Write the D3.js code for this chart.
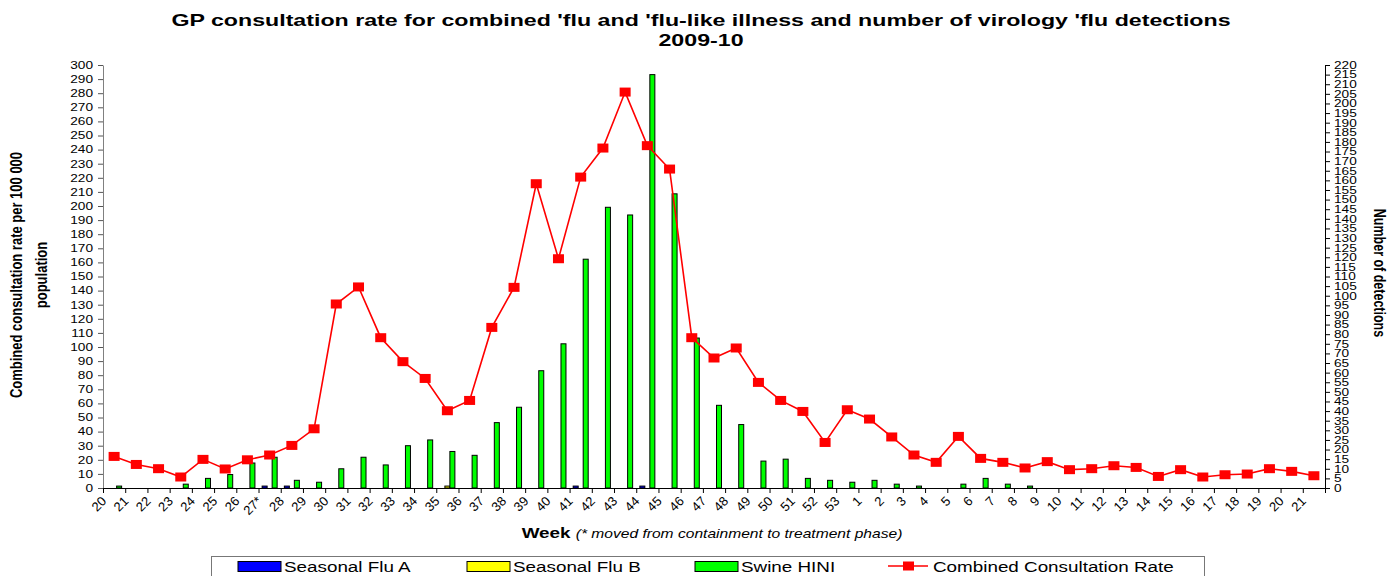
<!DOCTYPE html>
<html lang="en">
  <head>
    <meta charset="UTF-8" />
    <title>GP consultation rate 2009-10</title>
    <style>
      body {
        margin: 0;
        background: #fff;
      }
      svg {
        display: block;
        font-family: "Liberation Sans", Arial, sans-serif;
      }
    </style>
  </head>

  <body>
    <div class="container"></div>

    <script src="https://d3js.org/d3.v7.min.js"></script>
    <script>
      // data
      const weeks = [
        "20", "21", "22", "23", "24", "25", "26", "27*", "28", "29", "30", "31", "32", "33",
        "34", "35", "36", "37", "38", "39", "40", "41", "42", "43", "44", "45", "46", "47",
        "48", "49", "50", "51", "52", "53", "1", "2", "3", "4", "5", "6", "7", "8", "9", "10",
        "11", "12", "13", "14", "15", "16", "17", "18", "19", "20", "21"
      ];
      // rate per 100 000 (left axis)
      const rate = [
        22.4, 16.7, 13.7, 7.8, 20.3, 13.5, 20, 23.4, 30.2, 42,
        130.5, 142.6, 106.6, 89.6, 77.7, 54.8, 62.1, 113.9, 142.3, 215.8,
        162.6, 220.5, 241.1, 280.8, 242.8, 226.2, 106.6, 92.2, 99.3, 74.9,
        62.1, 54.3, 32.3, 55.5, 48.9, 36.2, 23.4, 18.2, 36.6, 21,
        18.2, 14.2, 18.7, 13, 13.7, 15.8, 14.6, 8.2, 13, 7.8,
        9.4, 9.9, 13.7, 11.8, 8.7
      ];
      // detections (right axis)
      const fluA = [
        0, 0, 0, 0, 0, 0, 0, 1, 1, 0, 0, 0, 0, 0, 0, 0, 0, 0, 0, 0, 0, 1, 0, 0, 1, 0, 0, 0,
        0, 0, 0, 0, 0, 0, 0, 0, 0, 0, 0, 0, 0, 0, 0, 0, 0, 0, 0, 0, 0, 0, 0, 0, 0, 0, 0
      ];
      const fluB = [
        0, 0, 0, 0, 0, 0, 0, 0, 0, 0, 0, 0, 0, 0, 0, 1, 0, 0, 0, 0, 0, 0, 0, 0, 0, 0, 0, 0,
        0, 0, 0, 0, 0, 0, 0, 0, 0, 0, 0, 0, 0, 0, 0, 0, 0, 0, 0, 0, 0, 0, 0, 0, 0, 0, 0
      ];
      const swine = [
        1, 0, 0, 2, 5, 7, 13, 16, 4, 3, 10, 16, 12, 22, 25, 19, 17, 34, 42, 61,
        75, 119, 146, 142, 215, 153, 78, 43, 33, 14, 15, 5, 4, 3, 4, 2, 1, 0, 2, 5,
        2, 1, 0, 0, 0, 0, 0, 0, 0, 0, 0, 0, 0, 0, 0
      ];
      const leftTicks = d3.range(0, 301, 10);
      const rightTicks = d3.range(0, 221, 5);
      const seriesNames = ["Seasonal Flu A", "Seasonal Flu B", "Swine HINI"];
      const seriesColors = ["#0000ff", "#ffff00", "#00ff00"];
      const lineName = "Combined Consultation Rate";

      // the original picture is stretched sideways, texts get the same stretch
      const SX = 1.3;

      const W = 1394,
        H = 576;
      const m = { left: 103, right: 1325, top: 65, bottom: 488 };

      const svg = d3.select(".container").append("svg").attr("width", W).attr("height", H);

      const x = d3.scaleBand().domain(d3.range(weeks.length)).range([m.left, m.right]);
      const xi = d3.scaleLinear().domain([0, weeks.length]).range([m.left, m.right]);
      const xs = d3.scaleBand().domain([0, 1, 2]).range([0, x.bandwidth()]).paddingOuter(0.72);
      const yL = d3.scaleLinear().domain([0, 300]).range([m.bottom, m.top]);
      const yR = d3.scaleLinear().domain([0, 220]).range([m.bottom, m.top]);

      function stretch(sel) {
        sel.selectAll("text").each(function () {
          const t = d3.select(this);
          t.attr("x", +t.attr("x") / SX).attr("transform", `scale(${SX},1)`);
        });
      }

      // title
      const title = svg.append("g").attr("font-weight", "bold").attr("font-size", 16).attr("text-anchor", "middle");
      title
        .append("text")
        .attr("transform", "translate(701,26) scale(1.45,1)")
        .text("GP consultation rate for combined 'flu and 'flu-like illness and number of virology 'flu detections");
      title.append("text").attr("transform", "translate(701,46) scale(1.45,1)").text("2009-10");

      // bars
      const series = [fluA, fluB, swine];
      series.forEach((vals, s) => {
        svg
          .append("g")
          .selectAll("rect")
          .data(vals.map((v, i) => ({ i, v })).filter((d) => d.v > 0))
          .join("rect")
          .attr("x", (d) => x(d.i) + xs(s))
          .attr("width", xs.bandwidth())
          .attr("y", (d) => yR(d.v))
          .attr("height", (d) => yR(0) - yR(d.v))
          .attr("fill", seriesColors[s])
          .attr("stroke", "#000")
          .attr("stroke-width", 1);
      });

      // line
      const line = d3
        .line()
        .x((d, i) => x(i) + x.bandwidth() / 2)
        .y((d) => yL(d));
      svg.append("path").datum(rate).attr("d", line).attr("fill", "none").attr("stroke", "#ff0000").attr("stroke-width", 1.6);
      svg
        .append("g")
        .selectAll("rect")
        .data(rate)
        .join("rect")
        .attr("x", (d, i) => x(i) + x.bandwidth() / 2 - 5.5)
        .attr("y", (d) => yL(d) - 4.5)
        .attr("width", 11)
        .attr("height", 9)
        .attr("fill", "#ff0000");

      // axes
      const gL = svg
        .append("g")
        .attr("transform", `translate(${m.left},0)`)
        .call(d3.axisLeft(yL).tickValues(leftTicks).tickSize(5).tickPadding(5).tickSizeOuter(0))
        .call(stretch);
      gL.select(".domain").attr("stroke", "#808080");
      gL.selectAll(".tick line").attr("stroke", "#555");
      gL.selectAll("text").attr("font-size", 10.5).attr("fill", "#000");

      const gR = svg
        .append("g")
        .attr("transform", `translate(${m.right},0)`)
        .call(d3.axisRight(yR).tickValues(rightTicks).tickSize(5).tickPadding(4).tickSizeOuter(0))
        .call(stretch);
      gR.selectAll("text").attr("font-size", 10.5).attr("fill", "#000");

      svg
        .append("g")
        .attr("transform", `translate(0,${m.bottom})`)
        .call(d3.axisBottom(xi).tickValues(d3.range(weeks.length + 1)).tickFormat("").tickSize(5).tickSizeOuter(0));

      const gX = svg
        .append("g")
        .attr("transform", `translate(0,${m.bottom})`)
        .call(d3.axisBottom(x).tickFormat((i) => weeks[i]).tickSize(0));
      gX.select(".domain").remove();
      gX.selectAll("text")
        .attr("font-size", 13)
        .attr("fill", "#000")
        .attr("text-anchor", "end")
        .attr("x", 0)
        .attr("y", 0)
        .attr("dy", 0)
        .attr("transform", "translate(-7,14) rotate(-45)");

      // axis titles
      svg
        .append("text")
        .attr("transform", `translate(712,538) scale(${SX},1)`)
        .attr("text-anchor", "middle")
        .attr("font-size", 12)
        .call((t) => {
          t.append("tspan").attr("font-weight", "bold").attr("font-size", 14.5).text("Week ");
          t.append("tspan").attr("font-style", "italic").text("(* moved from containment to treatment phase)");
        });

      const yTitle = svg.append("g").attr("font-weight", "bold").attr("font-size", 13).attr("text-anchor", "middle");
      yTitle
        .append("text")
        .attr("transform", `translate(22,275) rotate(-90) scale(1,${SX})`)
        .text("Combined consultation rate per 100 000");
      yTitle
        .append("text")
        .attr("transform", `translate(47,275) rotate(-90) scale(1,${SX})`)
        .text("population");
      svg
        .append("text")
        .attr("transform", `translate(1374,273) rotate(90) scale(1,${SX})`)
        .attr("text-anchor", "middle")
        .attr("font-weight", "bold")
        .attr("font-size", 12.5)
        .text("Number of detections");

      // legend
      const lg = svg.append("g");
      lg.append("rect").attr("x", 211.5).attr("y", 556.5).attr("width", 993).attr("height", 40).attr("fill", "#fff").attr("stroke", "#777");
      const swX = [238, 467, 695];
      seriesNames.forEach((name, s) => {
        lg.append("rect").attr("x", swX[s]).attr("y", 561.5).attr("width", 43).attr("height", 10).attr("fill", seriesColors[s]).attr("stroke", "#000");
        lg.append("text")
          .attr("transform", `translate(${swX[s] + 46},571.5) scale(${SX},1)`)
          .attr("font-size", 14.5)
          .text(name);
      });
      lg.append("line").attr("x1", 888).attr("x2", 928).attr("y1", 566).attr("y2", 566).attr("stroke", "#ff0000").attr("stroke-width", 1.6);
      lg.append("rect").attr("x", 903).attr("y", 561.5).attr("width", 11).attr("height", 9).attr("fill", "#ff0000");
      lg.append("text")
        .attr("transform", `translate(933,571.5) scale(${SX},1)`)
        .attr("font-size", 14.5)
        .text(lineName);
    </script>
  </body>
</html>
